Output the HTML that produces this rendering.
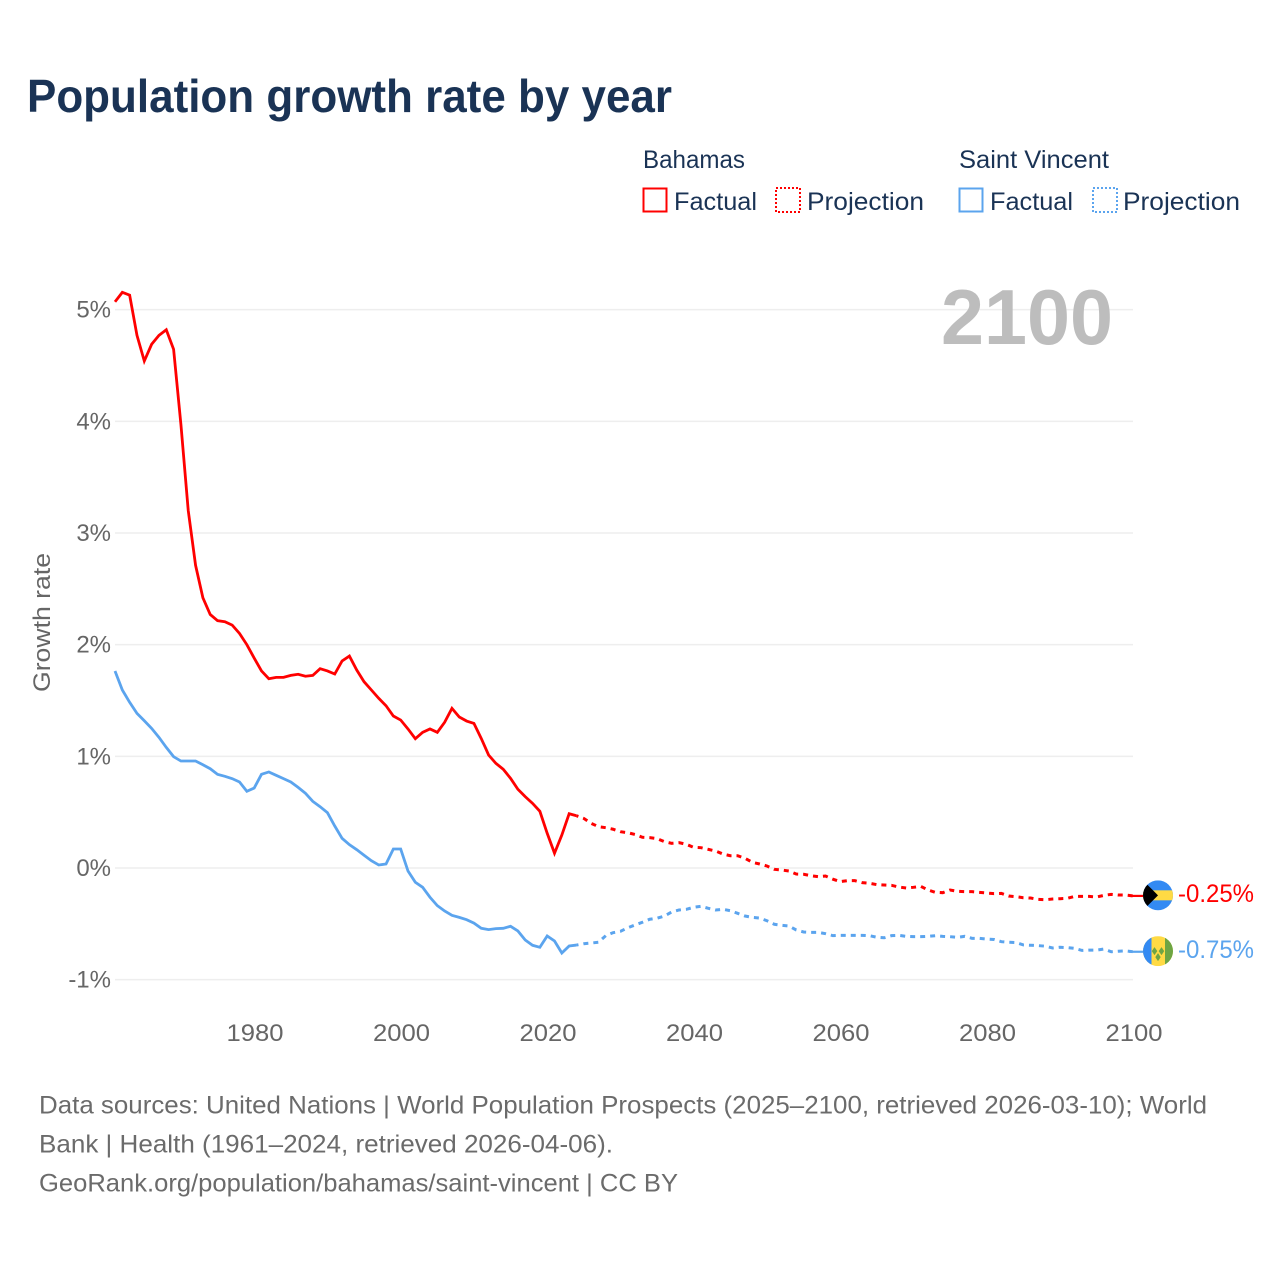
<!DOCTYPE html>
<html lang="en">
<head>
<meta charset="utf-8">
<title>Population growth rate by year</title>
<style>
html,body{margin:0;padding:0;background:#fff;}
svg{display:block;font-family:"Liberation Sans",sans-serif;}
</style>
</head>
<body>
<svg id="chart" width="1280" height="1280" viewBox="0 0 1280 1280" xmlns="http://www.w3.org/2000/svg">
  <rect x="0" y="0" width="1280" height="1280" fill="#ffffff"/>
  <text x="27" y="112" font-size="46" font-weight="700" fill="#1a3355" textLength="645" lengthAdjust="spacingAndGlyphs">Population growth rate by year</text>

  <g font-size="25" fill="#1a3355">
    <text x="643" y="168" textLength="102" lengthAdjust="spacingAndGlyphs">Bahamas</text>
    <text x="959" y="168" textLength="150" lengthAdjust="spacingAndGlyphs">Saint Vincent</text>
    <g>
      <rect x="643.5" y="188.5" width="23" height="23" fill="none" stroke="#ff0000" stroke-width="2"/>
      <text x="674" y="210" textLength="83" lengthAdjust="spacingAndGlyphs">Factual</text>
    </g>
    <g>
      <rect x="776" y="188" width="24" height="24" fill="none" stroke="#ff0000" stroke-width="2" stroke-dasharray="2 2"/>
      <text x="807" y="210" textLength="117" lengthAdjust="spacingAndGlyphs">Projection</text>
    </g>
    <g>
      <rect x="959.5" y="188.5" width="23" height="23" fill="none" stroke="#5ba4ee" stroke-width="2"/>
      <text x="990" y="210" textLength="83" lengthAdjust="spacingAndGlyphs">Factual</text>
    </g>
    <g>
      <rect x="1093" y="188" width="24" height="24" fill="none" stroke="#5ba4ee" stroke-width="2" stroke-dasharray="2 2"/>
      <text x="1123" y="210" textLength="117" lengthAdjust="spacingAndGlyphs">Projection</text>
    </g>
  </g>

  <text transform="translate(50,622.5) rotate(-90)" text-anchor="middle" font-size="24" fill="#666666" textLength="139" lengthAdjust="spacingAndGlyphs">Growth rate</text>
  <g id="y-grid"></g>
  <g id="x-axis"></g>
  <text x="941" y="344" font-size="78" font-weight="700" fill="#bdbdbd" textLength="172" lengthAdjust="spacingAndGlyphs">2100</text>
  <g id="series"></g>
  <g id="markers"></g>

  <g font-size="25" fill="#6b6b6b">
    <text x="39" y="1113.5" textLength="1168" lengthAdjust="spacingAndGlyphs">Data sources: United Nations | World Population Prospects (2025–2100, retrieved 2026-03-10); World</text>
    <text x="39" y="1152.5" textLength="574" lengthAdjust="spacingAndGlyphs">Bank | Health (1961–2024, retrieved 2026-04-06).</text>
    <text x="39" y="1191.5" textLength="639" lengthAdjust="spacingAndGlyphs">GeoRank.org/population/bahamas/saint-vincent | CC BY</text>
  </g>
</svg>

<script>
const firstYear = 1961;
const lastYear = 2100;
const xTicks = [1980, 2000, 2020, 2040, 2060, 2080, 2100];
const yTicks = [5, 4, 3, 2, 1, 0, -1];

const bahamasFactual = [
  5.07,5.155,5.13,4.77,4.54,4.69,4.77,4.82,4.645,3.97,
  3.2,2.71,2.42,2.27,2.215,2.205,2.175,2.10,2.0,1.88,
  1.765,1.695,1.707,1.707,1.725,1.735,1.717,1.725,1.785,1.765,
  1.737,1.854,1.898,1.773,1.668,1.594,1.52,1.453,1.361,1.325,
  1.245,1.158,1.215,1.245,1.215,1.305,1.43,1.352,1.316,1.295,
  1.16,1.012,.937,.884,.803,.705,.639,.579,.508,.311,
  .132,.295,.486,.468
];
const bahamasProjection = [
  .444,.40,.37,.361,.347,.325,
  .316,.30,.275,.272,.263,.236,.221,.227,.212,.185,
  .182,.167,.152,.125,.11,.11,.087,.051,.036,.018,
  -.012,-.018,-.027,-.054,-.056,-.069,-.078,-.072,-.10,-.122,
  -.113,-.113,-.131,-.137,-.149,-.152,-.155,-.17,-.179,-.173,
  -.164,-.197,-.218,-.221,-.197,-.209,-.212,-.212,-.218,-.224,
  -.23,-.227,-.251,-.257,-.266,-.269,-.281,-.284,-.278,-.275,
  -.272,-.254,-.254,-.254,-.26,-.245,-.236,-.242,-.242,-.25
];
const vincentFactual = [
  1.764,1.594,1.484,1.385,1.319,1.25,1.17,1.08,.997,.958,
  .958,.958,.925,.889,.839,.821,.80,.77,.687,.716,
  .839,.86,.83,.80,.77,.722,.669,.597,.549,.495,
  .376,.266,.209,.164,.114,.065,.027,.036,.17,.17,
  -.027,-.128,-.173,-.262,-.337,-.385,-.424,-.442,-.463,-.493,
  -.54,-.552,-.543,-.54,-.522,-.564,-.645,-.692,-.71,-.609,
  -.654,-.761,-.698,-.69
];
const vincentProjection = [
  -.678,-.672,-.665,-.606,-.579,-.567,
  -.535,-.51,-.486,-.459,-.45,-.43,-.394,-.376,-.37,-.352,
  -.343,-.361,-.376,-.37,-.382,-.406,-.43,-.442,-.448,-.472,
  -.504,-.513,-.519,-.555,-.573,-.576,-.576,-.588,-.606,-.603,
  -.603,-.603,-.603,-.606,-.62,-.625,-.606,-.603,-.612,-.615,
  -.615,-.612,-.606,-.612,-.615,-.621,-.612,-.63,-.63,-.636,
  -.64,-.66,-.665,-.668,-.689,-.692,-.695,-.70,-.716,-.71,
  -.713,-.72,-.738,-.735,-.735,-.726,-.75,-.745,-.742,-.75
];

const RED = '#ff0000';
const BLUE = '#5ba4ee';
const NS = 'http://www.w3.org/2000/svg';

function xScale(year) {
  return 115 + (year - firstYear) * (1133.2 - 115) / (lastYear - firstYear);
}
function yScale(pct) {
  return 868 - pct * 111.67;
}
function make(tag, attrs, parent, text) {
  const el = document.createElementNS(NS, tag);
  for (const k in attrs) el.setAttribute(k, attrs[k]);
  if (text !== undefined) el.textContent = text;
  parent.appendChild(el);
  return el;
}
function pointsFor(values, startYear) {
  return values.map(function (v, i) {
    return xScale(startYear + i).toFixed(2) + ',' + yScale(v).toFixed(2);
  }).join(' ');
}

const yGroup = document.getElementById('y-grid');
yTicks.forEach(function (t) {
  const line = make('line', {x1: 115, x2: 1133, y1: yScale(t), y2: yScale(t), stroke: '#eeeeee', 'stroke-width': 1.5}, yGroup);
  
  
  const label = make('text', {x: 111, y: yScale(t) + 8, 'text-anchor': 'end', 'font-size': 24, fill: '#666666'}, yGroup, t + '%');
  
  
});

const xGroup = document.getElementById('x-axis');
xTicks.forEach(function (t) {
  const label = make('text', {x: xScale(t) + 0.8, y: 1041, 'text-anchor': 'middle', 'font-size': 24, fill: '#666666', textLength: 57, lengthAdjust: 'spacingAndGlyphs'}, xGroup, String(t));
  
  
});

const seriesGroup = document.getElementById('series');
const factualEndYear = firstYear + bahamasFactual.length - 1;

function drawSeries(factual, projection, color, slug) {
  const dashedValues = [factual[factual.length - 1]].concat(projection);
  const dashed = make('polyline', {
    points: pointsFor(dashedValues, factualEndYear), fill: 'none', stroke: color,
    'stroke-width': 3, 'stroke-dasharray': '5 5', 'stroke-dashoffset': 3
  }, seriesGroup);
  
  
  const solid = make('polyline', {
    points: pointsFor(factual, firstYear), fill: 'none', stroke: color,
    'stroke-width': 2.8, 'stroke-linejoin': 'miter'
  }, seriesGroup);
  
  
}
drawSeries(bahamasFactual, bahamasProjection, RED, 'bahamas');
drawSeries(vincentFactual, vincentProjection, BLUE, 'saint-vincent');

const markers = document.getElementById('markers');
const defs = make('defs', {}, markers);
const clip = make('clipPath', {id: 'flag-clip'}, defs);
make('circle', {cx: 0, cy: 0, r: 15}, clip);

function drawEnd(value, color, slug) {
  const yy = yScale(value) - 0.6;
  const connector = make('line', {x1: xScale(lastYear) - 4, x2: 1144, y1: yy + 0.6, y2: yy + 0.6, stroke: color, 'stroke-width': 2.2}, markers);
  
  
  const flag = make('g', {transform: 'translate(1158,' + yy.toFixed(2) + ')', 'clip-path': 'url(#flag-clip)'}, markers);
  
  
  const label = make('text', {x: 1178, y: yy + 6.6, 'font-size': 25, fill: color, textLength: 76, lengthAdjust: 'spacingAndGlyphs'}, markers, value.toFixed(2) + '%');
  
  
  return flag;
}

const bahamasFlag = drawEnd(bahamasProjection[bahamasProjection.length - 1], RED, 'bahamas');
make('rect', {x: -15, y: -15, width: 30, height: 30, fill: '#338af3'}, bahamasFlag);
make('rect', {x: -15, y: -5, width: 30, height: 10, fill: '#ffda44'}, bahamasFlag);
make('polygon', {points: '-15,-15 0,0 -15,15', fill: '#000000'}, bahamasFlag);

const vincentFlag = drawEnd(vincentProjection[vincentProjection.length - 1], BLUE, 'saint-vincent');
make('rect', {x: -15, y: -15, width: 30, height: 30, fill: '#ffda44'}, vincentFlag);
make('rect', {x: -15, y: -15, width: 8.5, height: 30, fill: '#338af3'}, vincentFlag);
make('rect', {x: 7, y: -15, width: 8, height: 30, fill: '#6da544'}, vincentFlag);
make('polygon', {points: '-3.5,-4 -0.7,0 -3.5,4 -6.2,0', fill: '#6da544'}, vincentFlag);
make('polygon', {points: '3.5,-4 6.2,0 3.5,4 0.7,0', fill: '#6da544'}, vincentFlag);
make('polygon', {points: '0,2 2.7,6 0,10 -2.7,6', fill: '#6da544'}, vincentFlag);
</script>
</body>
</html>
